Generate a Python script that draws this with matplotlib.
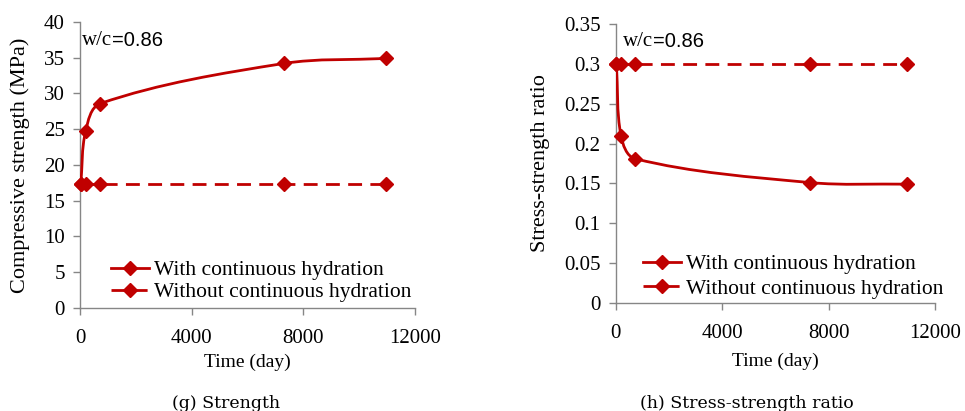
import numpy as np
import matplotlib.pyplot as plt
from matplotlib.path import Path
from matplotlib.patches import PathPatch
from matplotlib.lines import Line2D

# datos
tiempo = [28, 200, 730, 7300, 10950]
resistencia_con = [17.3, 24.7, 28.6, 34.2, 34.9]
resistencia_sin = [17.3, 17.3, 17.3, 17.3, 17.3]
ratio_con = [0.30, 0.21, 0.181, 0.151, 0.149]
ratio_sin = [0.30, 0.30, 0.30, 0.30, 0.30]

xticks = [0, 4000, 8000, 12000]
yticks_izq = [0, 5, 10, 15, 20, 25, 30, 35, 40]
yticks_der = [0, 0.05, 0.1, 0.15, 0.2, 0.25, 0.3, 0.35]
yticklabels_der = ['0', '0.05', '0.1', '0.15', '0.2', '0.25', '0.3', '0.35']
etiquetas = ['With continuous hydration', 'Without continuous hydration']

rojo = '#C00000'
gris = '#868686'
serif = 'Liberation Serif'

plt.rcParams['font.family'] = serif


def curva_suave(ax, x, y, **kw):
    # linea suavizada tipo Excel: bezier con tangentes escaladas por la longitud del tramo
    x0, x1 = ax.get_xlim()
    y0, y1 = ax.get_ylim()
    bb = ax.get_position()
    w, h = bb.width * 9.65, bb.height * 4.11
    u = (np.array(x) - x0) / (x1 - x0) * w
    v = (np.array(y) - y0) / (y1 - y0) * h
    p = np.column_stack([u, v])
    n = len(p)
    d = []
    for i in range(n):
        a = p[i - 1] if i > 0 else p[i]
        b = p[i + 1] if i + 1 < n else p[i]
        t = b - a
        d.append(t / np.hypot(*t))
    verts = [p[0]]
    codes = [Path.MOVETO]
    for i in range(n - 1):
        L = np.hypot(*(p[i + 1] - p[i]))
        c1 = p[i] + d[i] * L / 3
        c2 = p[i + 1] - d[i + 1] * L / 3
        verts += [c1, c2, p[i + 1]]
        codes += [Path.CURVE4] * 3
    verts = np.array(verts)
    verts[:, 0] = verts[:, 0] / w * (x1 - x0) + x0
    verts[:, 1] = verts[:, 1] / h * (y1 - y0) + y0
    ax.add_patch(PathPatch(Path(verts, codes), fill=False, transform=ax.transData, **kw))


def estilo(ax, pad_x):
    for s in ['top', 'right']:
        ax.spines[s].set_visible(False)
    for s in ['left', 'bottom']:
        ax.spines[s].set_color(gris)
        ax.spines[s].set_linewidth(1.0)
    ax.tick_params(axis='both', colors=gris, labelcolor='black', labelsize=15,
                   length=5, width=1.0, direction='out')
    ax.tick_params(axis='x', pad=10)
    ax.tick_params(axis='y', pad=6)
    ax.set_xlim(0, 12000)
    ax.set_xticks(xticks)
    ax.set_xlabel('Time (day)', fontsize=14, labelpad=pad_x)


fig = plt.figure(figsize=(9.65, 4.11), dpi=100)
ax1 = fig.add_axes([0.0829, 0.2506, 0.3472, 0.6959])
ax2 = fig.add_axes([0.638, 0.2635, 0.331, 0.6775])

lw = 2.0
ms = 7.5
guion = (0, (5, 3))

manejadores = [
    Line2D([], [], color=rojo, lw=lw, marker='D', markersize=ms),
    Line2D([], [], color=rojo, lw=lw, ls=guion, marker='D', markersize=ms),
]
opts_leyenda = dict(loc='lower left', frameon=False, fontsize=15.5, handlelength=1.75,
                    handletextpad=0.25, borderpad=0, borderaxespad=0)

# (g) resistencia
estilo(ax1, 4)
ax1.set_ylim(0, 40)
ax1.set_yticks(yticks_izq)
curva_suave(ax1, tiempo, resistencia_con, color=rojo, lw=lw, capstyle='round', zorder=3)
ax1.plot(tiempo, resistencia_sin, color=rojo, lw=lw, ls=guion, zorder=3)
ax1.plot(tiempo, resistencia_con, ls='none', marker='D', color=rojo, markersize=ms, zorder=4, clip_on=False)
ax1.plot(tiempo, resistencia_sin, ls='none', marker='D', color=rojo, markersize=ms, zorder=4, clip_on=False)
ax1.set_ylabel('Compressive strength (MPa)', fontsize=16, labelpad=10)
t = ax1.text(0.005, 0.937, 'w/c', transform=ax1.transAxes, fontsize=15, va='center', ha='left')
ax1.annotate('=0.86', xy=(1, 0), xycoords=t, va='bottom', ha='left', fontsize=14.5,
             family='Liberation Sans')
ax1.legend(manejadores, etiquetas, bbox_to_anchor=(0.0925, 0.02), labelspacing=0.1,
           **opts_leyenda)

# (h) relacion esfuerzo-resistencia
estilo(ax2, 7)
ax2.set_ylim(0, 0.35)
ax2.set_yticks(yticks_der)
ax2.set_yticklabels(yticklabels_der)
curva_suave(ax2, tiempo, ratio_con, color=rojo, lw=lw, capstyle='round', zorder=3)
ax2.plot(tiempo, ratio_sin, color=rojo, lw=lw, ls=guion, zorder=3)
ax2.plot(tiempo, ratio_con, ls='none', marker='D', color=rojo, markersize=ms, zorder=4, clip_on=False)
ax2.plot(tiempo, ratio_sin, ls='none', marker='D', color=rojo, markersize=ms, zorder=4, clip_on=False)
ax2.set_ylabel('Stress-strength ratio', fontsize=16, labelpad=10)
t = ax2.text(0.024, 0.9375, 'w/c', transform=ax2.transAxes, fontsize=15, va='center', ha='left')
ax2.annotate('=0.86', xy=(1, 0), xycoords=t, va='bottom', ha='left', fontsize=14.5,
             family='Liberation Sans')
ax2.legend(manejadores, etiquetas, bbox_to_anchor=(0.0855, 0.015), labelspacing=0.2,
           **opts_leyenda)

fig.text(226 / 965, 1 - 408 / 411, '(g) Strength', ha='center', va='baseline',
         fontsize=12.5, family='DejaVu Serif')
fig.text(747 / 965, 1 - 408 / 411, '(h) Stress-strength ratio', ha='center', va='baseline',
         fontsize=12.5, family='DejaVu Serif')

fig.savefig('out.png', dpi=100)
